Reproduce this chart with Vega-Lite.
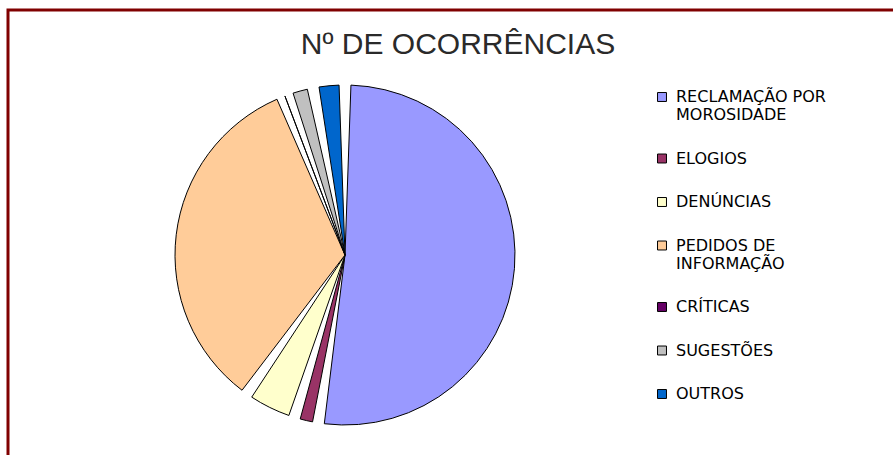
{
  "$schema": "https://vega.github.io/schema/vega-lite/v6.json",
  "autosize": {"type": "none"},
  "padding": {"left": 8, "top": 10, "right": 0, "bottom": 0},
  "width": 900,
  "height": 460,
  "background": "white",
  "view": {"stroke": "#800000", "strokeWidth": 3, "fill": "white"},
  "title": {
    "text": "Nº DE OCORRÊNCIAS",
    "orient": "top",
    "anchor": "middle",
    "offset": -50,
    "font": "Liberation Sans",
    "fontSize": 30,
    "fontWeight": "normal",
    "color": "#2a2a2a"
  },
  "data": {
    "values": [
      {"n": 1, "tipo": "RECLAMAÇÃO POR MOROSIDADE", "valor": 52.5},
      {"n": 2, "tipo": "ELOGIOS", "valor": 2.3},
      {"n": 3, "tipo": "DENÚNCIAS", "valor": 5},
      {"n": 4, "tipo": "PEDIDOS DE INFORMAÇÃO", "valor": 34.2},
      {"n": 5, "tipo": "CRÍTICAS", "valor": 0.5},
      {"n": 6, "tipo": "SUGESTÕES", "valor": 2.5},
      {"n": 7, "tipo": "OUTROS", "valor": 3}
    ]
  },
  "mark": {
    "type": "arc",
    "x": 337,
    "y": 245,
    "outerRadius": 170,
    "padAngle": 0.07,
    "stroke": "#000000",
    "strokeWidth": 1
  },
  "encoding": {
    "theta": {"field": "valor", "type": "quantitative", "stack": true},
    "order": {"field": "n", "type": "quantitative", "sort": "ascending"},
    "color": {
      "field": "tipo",
      "type": "nominal",
      "sort": ["RECLAMAÇÃO POR MOROSIDADE", "ELOGIOS", "DENÚNCIAS", "PEDIDOS DE INFORMAÇÃO", "CRÍTICAS", "SUGESTÕES", "OUTROS"],
      "scale": {
        "domain": ["RECLAMAÇÃO POR MOROSIDADE", "ELOGIOS", "DENÚNCIAS", "PEDIDOS DE INFORMAÇÃO", "CRÍTICAS", "SUGESTÕES", "OUTROS"],
        "range": ["#9999FF", "#993366", "#FFFFCC", "#FFCC99", "#660066", "#C0C0C0", "#0066CC"]
      },
      "legend": {
        "title": null,
        "orient": "none",
        "legendX": 646,
        "legendY": 79,
        "symbolType": "square",
        "symbolSize": 80,
        "symbolStrokeColor": "#000000",
        "symbolStrokeWidth": 1,
        "labelFont": "DejaVu Sans",
        "labelFontSize": 16,
        "labelColor": "#000000",
        "labelOffset": 6,
        "labelLimit": 300,
        "rowPadding": 27.5,
        "labelExpr": "datum.label == 'RECLAMAÇÃO POR MOROSIDADE' ? ['RECLAMAÇÃO POR', 'MOROSIDADE'] : datum.label == 'PEDIDOS DE INFORMAÇÃO' ? ['PEDIDOS DE', 'INFORMAÇÃO'] : datum.label"
      }
    }
  }
}
